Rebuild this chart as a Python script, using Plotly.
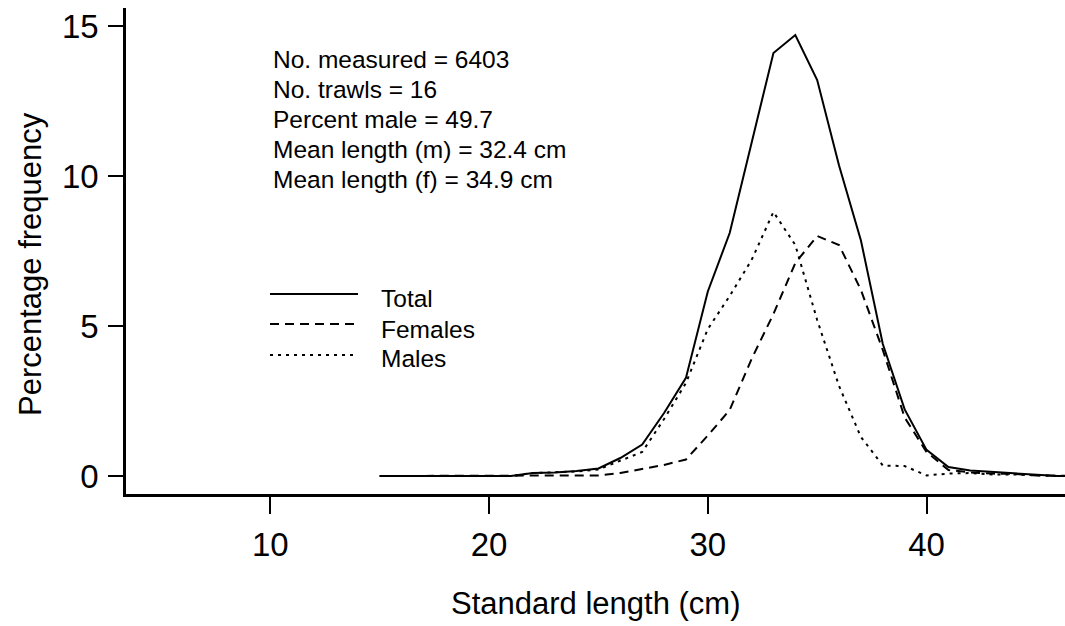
import plotly.graph_objects as go

# ---- data -------------------------------------------------------------
length_cm = list(range(15, 48))
total = [0, 0, 0, 0, 0, 0, 0, 0.1, 0.12, 0.17, 0.25, 0.6, 1.05, 2.1, 3.27,
         6.15, 8.1, 11.1, 14.1, 14.7, 13.2, 10.35, 7.85, 4.4, 2.22, 0.87,
         0.3, 0.18, 0.13, 0.1, 0.03, 0, 0]
females = [0, 0, 0, 0, 0, 0, 0, 0, 0, 0, 0.02, 0.1, 0.23, 0.37, 0.55,
           1.35, 2.2, 3.9, 5.4, 7.1, 8.0, 7.7, 6.2, 4.2, 1.95, 0.8,
           0.2, 0.12, 0.08, 0.07, 0.02, 0, 0]
males = [0, 0, 0, 0, 0, 0, 0, 0.1, 0.12, 0.15, 0.22, 0.5, 0.8, 1.9, 3.1,
         4.9, 6.0, 7.2, 8.8, 7.7, 5.2, 3.0, 1.3, 0.35, 0.33, 0.02,
         0.08, 0.1, 0.05, 0.05, 0.02, 0, 0]

x_ticks = [10, 20, 30, 40]
y_ticks = [0, 5, 10, 15]

info_lines = ["No. measured = 6403", "No. trawls = 16", "Percent male = 49.7",
              "Mean length (m) = 32.4 cm", "Mean length (f) = 34.9 cm"]
legend_names = ["Total", "Females", "Males"]
legend_dash = ["solid", "9px,6px", "3px,5px"]

# ---- layout geometry --------------------------------------------------
W, H = 1065, 626
L, R, T, B = 126, 0, 8, 132
PW, PH = W - L - R, H - T - B
FONT = "Liberation Sans, Arial, sans-serif"


def px(xpix):
    return (xpix - L) / PW


def py(ypix):
    return (H - B - ypix) / PH


fig = go.Figure()
for name, ys, dash in zip(legend_names, [total, females, males], legend_dash):
    fig.add_trace(go.Scatter(x=length_cm, y=ys, mode="lines", name=name,
                             line=dict(color="black", width=2, dash=dash),
                             showlegend=False, hoverinfo="skip"))

annotations = []
for i, t in enumerate(info_lines):
    annotations.append(dict(text=t, x=px(271), y=py(60 + i * 29.8), xref="paper", yref="paper",
                            xanchor="left", yanchor="middle", showarrow=False,
                            font=dict(family=FONT, size=24.5, color="black")))

shapes = []
leg_y = [294, 324, 355]
txt_y = [298, 329, 358]
for name, dash, ly, ty in zip(legend_names, legend_dash, leg_y, txt_y):
    shapes.append(dict(type="line", xref="paper", yref="paper",
                       x0=px(270), x1=px(358), y0=py(ly), y1=py(ly),
                       line=dict(color="black", width=2, dash=dash)))
    annotations.append(dict(text=name, x=px(379), y=py(ty), xref="paper", yref="paper",
                            xanchor="left", yanchor="middle", showarrow=False,
                            font=dict(family=FONT, size=24.5, color="black")))

# axis titles
annotations.append(dict(text="Standard length (cm)", x=0.5, y=py(603), xref="paper", yref="paper",
                        xanchor="center", yanchor="middle", showarrow=False,
                        font=dict(family=FONT, size=31, color="black")))
annotations.append(dict(text="Percentage frequency", x=px(30), y=py(264), xref="paper", yref="paper",
                        xanchor="center", yanchor="middle", showarrow=False, textangle=-90,
                        font=dict(family=FONT, size=31, color="black")))

fig.update_layout(
    width=W, height=H,
    margin=dict(l=L, r=R, t=T, b=B),
    paper_bgcolor="white", plot_bgcolor="white",
    font=dict(family=FONT, color="black"),
    annotations=annotations, shapes=shapes,
    xaxis=dict(range=[3.4, 46.33], tickvals=x_ticks, ticktext=[str(v) for v in x_ticks],
               showgrid=False, zeroline=False, showline=True, linecolor="black", linewidth=2.5,
               ticks="outside", ticklen=17, tickwidth=2, tickcolor="black",
               tickfont=dict(family=FONT, size=33, color="black"), ticklabelstandoff=3),
    yaxis=dict(range=[-0.6, 15.6], tickvals=y_ticks, ticktext=[str(v) for v in y_ticks],
               showgrid=False, zeroline=False, showline=True, linecolor="black", linewidth=2.5,
               ticks="outside", ticklen=15, tickwidth=2, tickcolor="black",
               tickfont=dict(family=FONT, size=33, color="black"), ticklabelstandoff=3),
)

fig.write_html("out.html")
